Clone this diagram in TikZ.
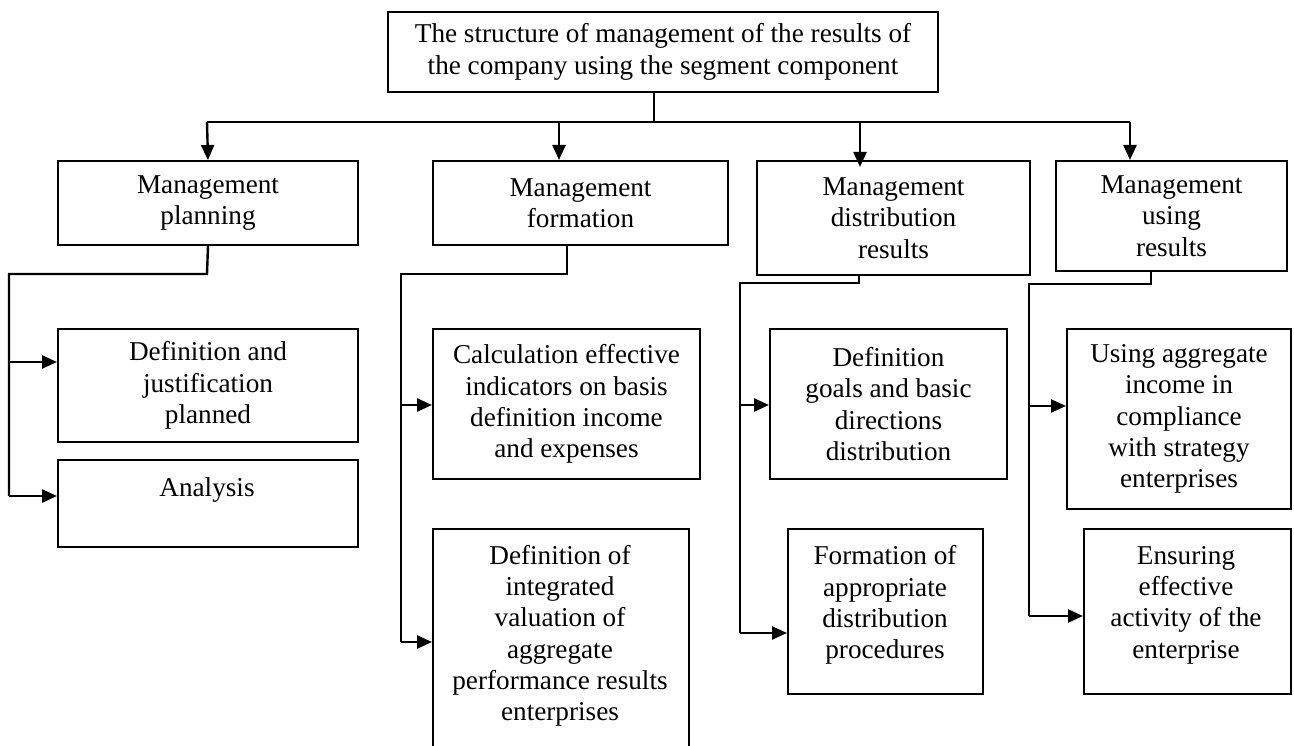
\documentclass[tikz,border=0pt]{standalone}
\usepackage{fontspec}
\setmainfont{Liberation Serif}
\usetikzlibrary{arrows.meta}
\begin{document}
\begin{tikzpicture}[x=1pt,y=-1pt,
  box/.style={draw, line width=2pt, anchor=north west, align=center, inner sep=0pt, font=\fontsize{27.2}{31.3}\selectfont},
  txt/.style={align=center, inner sep=0pt, font=\fontsize{27.2}{31.3}\selectfont},
  conn/.style={line width=2.4pt},
  arr/.style={line width=2.4pt, -{Triangle[length=15pt,width=13pt]}}]
\fill[white] (0,0) rectangle (1294,746);
\useasboundingbox (0,0) rectangle (1294,746);
\clip (0,0) rectangle (1294,746);

% boxes
\node[box, minimum width=550, minimum height=80] (top) at (387,11) {The structure of management of the results of\\the company using the segment component};
\node[box, minimum width=300, minimum height=84] (plan) at (57,160) {Management\\planning};
\node[box, minimum width=295, minimum height=84] (form) at (432,160) {Management\\formation};
\node[box, minimum width=273, minimum height=114] (dist) at (756,160) {Management\\distribution\\results};
\node[box, minimum width=231, minimum height=110] (muse) at (1055,160) {Management\\using\\results};

\node[box, minimum width=300, minimum height=113] (def) at (57,328) {Definition and\\justification\\planned};
\node[box, minimum width=300, minimum height=87] (ana) at (57,459) {};
\node[txt, anchor=north] (anat) at (207,477) {Analysis};

\node[box, minimum width=267, minimum height=150] (calc) at (432,328) {Calculation effective\\indicators on basis\\definition income\\and expenses};
\node[box, minimum width=256, minimum height=260] (integ) at (432,528) {};
\node[txt, anchor=north] (integt) at (560,545) {Definition of\\integrated\\valuation of\\aggregate\\performance results\\enterprises};

\node[box, minimum width=237, minimum height=150] (goals) at (769,328) {Definition\\goals and basic\\directions\\distribution};
\node[box, minimum width=195, minimum height=165] (formof) at (787,528) {};
\node[txt] (formoft) at (885,605) {Formation of\\appropriate\\distribution\\procedures};

\node[box, minimum width=224, minimum height=180] (usage) at (1066,328) {Using aggregate\\income in\\compliance\\with strategy\\enterprises};
\node[box, minimum width=207, minimum height=165] (ensure) at (1083,528) {};
\node[txt] (ensuret) at (1186,605) {Ensuring\\effective\\activity of the\\enterprise};

% top bus
\coordinate (stem) at (654,122);
\coordinate (bplan) at (207,122);
\coordinate (bform) at (559,122);
\coordinate (bdist) at (860,122);
\coordinate (dtip) at (860,167);
\coordinate (buse) at (1130,122);
\draw[conn] (stem |- top.south) -- (stem);
\draw[conn] (bplan) -- (buse);
\draw[arr] (bplan) -- (plan.north);
\draw[arr] (bform) -- (bform |- form.north);
\draw[arr] (bdist) -- (dtip);
\draw[arr] (buse) -- (buse |- muse.north);

% planning column
\coordinate (p1) at (207,274);
\coordinate (p2) at (9,274);
\coordinate (p3) at (9,362);
\coordinate (p4) at (9,496);
\draw[conn] (plan.south) -- (p1) -- (p2) -- (p4);
\draw[arr] (p3) -- (p3 -| def.west);
\draw[arr] (p4) -- (p4 -| ana.west);

% formation column
\coordinate (f1) at (567,274);
\coordinate (f2) at (401,274);
\coordinate (f3) at (401,405);
\coordinate (f4) at (401,642);
\draw[conn] (f1 |- form.south) -- (f1) -- (f2) -- (f4);
\draw[arr] (f3) -- (f3 -| calc.west);
\draw[arr] (f4) -- (f4 -| integ.west);

% distribution column
\coordinate (d1) at (859,283);
\coordinate (d2) at (740,283);
\coordinate (d3) at (740,405);
\coordinate (d4) at (740,633);
\draw[conn] (d1 |- dist.south) -- (d1) -- (d2) -- (d4);
\draw[arr] (d3) -- (d3 -| goals.west);
\draw[arr] (d4) -- (d4 -| formof.west);

% using column
\coordinate (u1) at (1151,284);
\coordinate (u2) at (1029,284);
\coordinate (u3) at (1029,406);
\coordinate (u4) at (1029,616);
\draw[conn] (u1 |- muse.south) -- (u1) -- (u2) -- (u4);
\draw[arr] (u3) -- (u3 -| usage.west);
\draw[arr] (u4) -- (u4 -| ensure.west);
\end{tikzpicture}
\end{document}
